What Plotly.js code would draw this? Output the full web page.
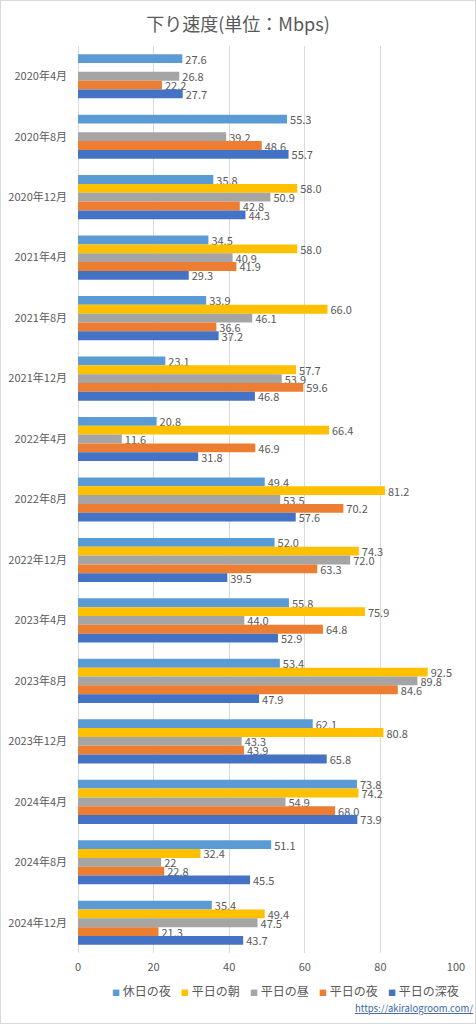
<!DOCTYPE html>
<html>
<head>
<meta charset="utf-8">
<script src="https://cdn.plot.ly/plotly-3.0.1.min.js"></script>
<style>
  html, body { margin: 0; padding: 0; background: #ffffff; }
  #chart { width: 476px; height: 1024px; box-sizing: border-box; border: 1px solid #d9d9d9; overflow: hidden; }
</style>
</head>
<body>
<div id="chart"></div>
<script>
// ---- data ----
const categories = ["2020年4月","2020年8月","2020年12月","2021年4月","2021年8月","2021年12月",
  "2022年4月","2022年8月","2022年12月","2023年4月","2023年8月","2023年12月",
  "2024年4月","2024年8月","2024年12月"];

const seriesNames = ["休日の夜","平日の朝","平日の昼","平日の夜","平日の深夜"];

// values as displayed in the data labels
const kyujitsuYoru = ["27.6","55.3","35.8","34.5","33.9","23.1","20.8","49.4","52.0","55.8","53.4","62.1","73.8","51.1","35.4"];
const heijitsuAsa  = [null,null,"58.0","58.0","66.0","57.7","66.4","81.2","74.3","75.9","92.5","80.8","74.2","32.4","49.4"];
const heijitsuHiru = ["26.8","39.2","50.9","40.9","46.1","53.9","11.6","53.5","72.0","44.0","89.8","43.3","54.9","22","47.5"];
const heijitsuYoru = ["22.2","48.6","42.8","41.9","36.6","59.6","46.9","70.2","63.3","64.8","84.6","43.9","68.0","22.8","21.3"];
const heijitsuShinya = ["27.7","55.7","44.3","29.3","37.2","46.8","31.8","57.6","39.5","52.9","47.9","65.8","73.9","45.5","43.7"];

const xTicks = [0, 20, 40, 60, 80, 100];

// ---- styling ----
const colors = ["#5B9BD5", "#FFC000", "#A5A5A5", "#ED7D31", "#4472C4"];
const FONT = '"Noto Sans CJK JP", "Noto Sans", sans-serif';
const TXT = "#595959";

const allSeries = [kyujitsuYoru, heijitsuAsa, heijitsuHiru, heijitsuYoru, heijitsuShinya];

const traces = allSeries.map((s, i) => ({
  type: "bar",
  orientation: "h",
  name: seriesNames[i],
  y: categories,
  x: s.map(v => v === null ? null : Number(v)),
  text: s.map(v => v === null ? "" : v),
  textposition: "outside",
  cliponaxis: false,
  constraintext: "none",
  textfont: { family: FONT, size: 11, color: TXT },
  marker: { color: colors[i], line: { width: 0 } },
  hoverinfo: "skip",
  showlegend: false
}));

const W = 474, H = 1022;
// page-pixel helpers (plot area spans x 78..456, y 46..953 on the page)
const PL = 78, PW = 378, PB = 953, PH = 907;
const px2x = p => (p - PL) / PW;
const py2y = p => -(p - PB) / PH;

// legend drawn as a row of annotations, built from the series names / colours
const legendAnnotations = seriesNames.map((n, i) => ({
  xref: "paper", yref: "paper",
  x: px2x(110 + 69 * i), xanchor: "left",
  y: py2y(991), yanchor: "middle",
  showarrow: false,
  text: `<span style="color:${colors[i]};font-size:8px">■</span> ${n}`,
  font: { family: FONT, size: 12, color: TXT }
}));

const layout = {
  width: W, height: H,
  paper_bgcolor: "#ffffff",
  plot_bgcolor: "#ffffff",
  font: { family: FONT, color: TXT, size: 11 },
  margin: { l: 77, r: 19, t: 45, b: 70, autoexpand: false },
  title: {
    text: "下り速度(単位：Mbps)",
    font: { family: FONT, size: 18, color: TXT },
    x: 0.5, xanchor: "center",
    y: 1 - 24 / H, yanchor: "middle", yref: "container"
  },
  barmode: "group",
  bargap: 0.27,
  bargroupgap: 0,
  xaxis: {
    range: [0, 100],
    tickvals: xTicks,
    ticktext: xTicks.map(String),
    showgrid: true,
    gridcolor: "#d9d9d9",
    gridwidth: 1,
    zeroline: true,
    zerolinecolor: "#d9d9d9",
    zerolinewidth: 1,
    showline: false,
    ticks: "",
    ticklabelstandoff: 6,
    tickfont: { family: FONT, size: 11, color: TXT },
    fixedrange: true
  },
  yaxis: {
    type: "category",
    categoryorder: "array",
    categoryarray: categories,
    autorange: "reversed",
    showgrid: false,
    zeroline: false,
    showline: false,
    ticks: "",
    ticklabelstandoff: 10,
    tickfont: { family: FONT, size: 11, color: TXT },
    fixedrange: true
  },
  showlegend: false,
  annotations: legendAnnotations.concat([{
    xref: "paper", yref: "paper",
    x: px2x(475), xanchor: "right",
    y: py2y(1008), yanchor: "middle",
    showarrow: false,
    text: '<span style="text-decoration:underline">https://akiralogroom.com/</span>',
    font: { family: FONT, size: 9.5, color: "#3b67a6" }
  }])
};

Plotly.newPlot("chart", traces, layout, { displayModeBar: false, staticPlot: true });
</script>
</body>
</html>
